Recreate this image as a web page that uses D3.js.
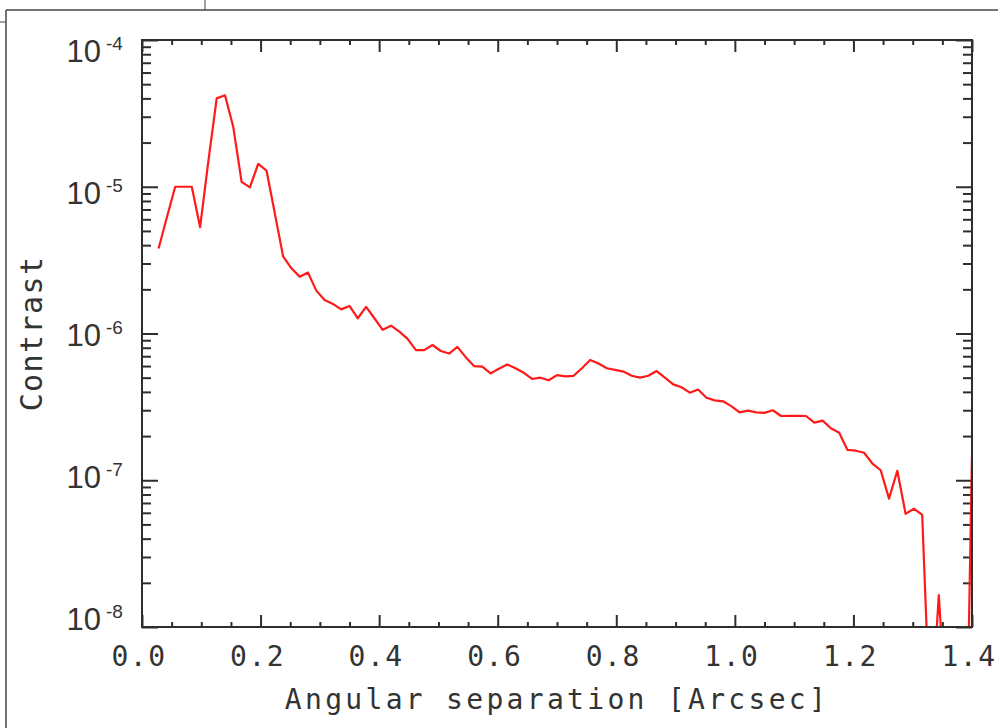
<!DOCTYPE html>
<html>
<head>
<meta charset="utf-8">
<script src="https://cdn.jsdelivr.net/npm/d3@7/dist/d3.min.js"></script>
<style>
  body { margin: 0; background: #fff; }
  svg { display: block; }
</style>
</head>
<body>
<div class="canvas"></div>
<script>
// angular separation [arcsec]
const separation = [
  0.028, 0.042, 0.056, 0.070, 0.084, 0.098, 0.112, 0.126, 0.140, 0.154,
  0.168, 0.182, 0.196, 0.210, 0.224, 0.238, 0.252, 0.266, 0.280, 0.294,
  0.308, 0.322, 0.336, 0.350, 0.364, 0.378, 0.392, 0.406, 0.420, 0.434,
  0.448, 0.462, 0.476, 0.490, 0.504, 0.518, 0.532, 0.546, 0.560, 0.574,
  0.588, 0.602, 0.616, 0.630, 0.644, 0.658, 0.672, 0.686, 0.700, 0.714,
  0.728, 0.742, 0.756, 0.770, 0.784, 0.798, 0.812, 0.826, 0.840, 0.854,
  0.868, 0.882, 0.896, 0.910, 0.924, 0.938, 0.952, 0.966, 0.980, 0.994,
  1.008, 1.022, 1.036, 1.050, 1.064, 1.078, 1.092, 1.106, 1.120, 1.134,
  1.148, 1.162, 1.176, 1.190, 1.204, 1.218, 1.232, 1.246, 1.260, 1.274,
  1.288, 1.302, 1.316, 1.330, 1.344, 1.358, 1.372, 1.386, 1.400
];

// contrast
const contrast = [
  3.8e-6, 6.2e-6, 1.0e-5, 1.0e-5, 1.0e-5, 5.3e-6, 1.5e-5, 4.0e-5, 4.2e-5, 2.55e-5,
  1.08e-5, 9.9e-6, 1.43e-5, 1.29e-5, 6.6e-6, 3.35e-6, 2.78e-6, 2.44e-6, 2.6e-6, 1.96e-6,
  1.69e-6, 1.59e-6, 1.46e-6, 1.54e-6, 1.27e-6, 1.52e-6, 1.27e-6, 1.06e-6, 1.13e-6, 1.03e-6,
  9.2e-7, 7.7e-7, 7.7e-7, 8.35e-7, 7.6e-7, 7.3e-7, 8.1e-7, 6.9e-7, 6.0e-7, 5.95e-7,
  5.35e-7, 5.75e-7, 6.15e-7, 5.8e-7, 5.4e-7, 4.9e-7, 5.0e-7, 4.8e-7, 5.2e-7, 5.1e-7,
  5.15e-7, 5.8e-7, 6.6e-7, 6.25e-7, 5.8e-7, 5.65e-7, 5.5e-7, 5.15e-7, 5.0e-7, 5.15e-7,
  5.55e-7, 5.0e-7, 4.5e-7, 4.3e-7, 3.95e-7, 4.15e-7, 3.65e-7, 3.5e-7, 3.45e-7, 3.2e-7,
  2.9e-7, 2.98e-7, 2.9e-7, 2.88e-7, 3.0e-7, 2.74e-7, 2.75e-7, 2.75e-7, 2.74e-7, 2.47e-7,
  2.55e-7, 2.26e-7, 2.11e-7, 1.61e-7, 1.59e-7, 1.54e-7, 1.3e-7, 1.17e-7, 7.5e-8, 1.16e-7,
  5.9e-8, 6.4e-8, 5.8e-8, 2e-9, 1.65e-8, 2e-9, 1e-10, 1e-10, 1.5e-7
];

// tick labels
const xTicks = [0, 0.2, 0.4, 0.6, 0.8, 1.0, 1.2, 1.4];
const xTickLabels = ["0.0", "0.2", "0.4", "0.6", "0.8", "1.0", "1.2", "1.4"];
const yTicks = [1e-4, 1e-5, 1e-6, 1e-7, 1e-8];
const yExponents = ["-4", "-5", "-6", "-7", "-8"];

const W = 998, H = 728;
const svg = d3.select(".canvas")
  .append('svg')
  .attr('width', W)
  .attr('height', H)
  .style('background', '#fff');

// page frame bits around the figure
const frame = svg.append('g').attr('stroke', '#444').attr('fill', 'none');
frame.append('line').attr('x1', 6).attr('y1', 10).attr('x2', W).attr('y2', 10).attr('stroke-width', 1.5);
frame.append('line').attr('x1', 6).attr('y1', 10).attr('x2', 6).attr('y2', H).attr('stroke-width', 1.5);
frame.append('line').attr('x1', 205).attr('y1', 0).attr('x2', 205).attr('y2', 10).attr('stroke-width', 1);
frame.append('line').attr('x1', 0).attr('y1', 22).attr('x2', 6).attr('y2', 22).attr('stroke-width', 1);

const margins = {top: 40, left: 142, bottom: 101, right: 26};
const graphWidth = W - margins.left - margins.right;
const graphHeight = H - margins.top - margins.bottom;

const graph = svg.append('g')
  .attr('transform', 'translate(' + margins.left + ',' + margins.top + ')');

const x = d3.scaleLinear().domain([0, 1.4]).range([0, graphWidth]);
const y = d3.scaleLog().domain([1e-8, 1e-4]).range([graphHeight, 0]);

// minor tick positions
const xMinor = d3.range(0, 1.4001, 0.05).filter(v => Math.abs(v / 0.2 - Math.round(v / 0.2)) > 1e-6);
const yMinor = [];
yTicks.slice(0, -1).forEach(d => { for (let k = 2; k <= 9; k++) yMinor.push(d / 10 * k); });

const axisColor = '#2e2e2e';
const textColor = '#333';

function tickAxis(axis, transform) {
  const g = graph.append('g').attr('transform', transform).call(axis);
  g.select('.domain').remove();
  g.selectAll('line').attr('stroke', axisColor).attr('stroke-width', 2);
  g.selectAll('text').remove();
  return g;
}

// x ticks, bottom & top (inward)
tickAxis(d3.axisBottom(x).tickValues(xTicks).tickSize(-12).tickSizeOuter(0), 'translate(0,' + graphHeight + ')');
tickAxis(d3.axisBottom(x).tickValues(xMinor).tickSize(-5).tickSizeOuter(0), 'translate(0,' + graphHeight + ')');
tickAxis(d3.axisTop(x).tickValues(xTicks).tickSize(-12).tickSizeOuter(0), 'translate(0,0)');
tickAxis(d3.axisTop(x).tickValues(xMinor).tickSize(-5).tickSizeOuter(0), 'translate(0,0)');

// y ticks, left & right (inward)
tickAxis(d3.axisLeft(y).tickValues(yTicks).tickSize(-16).tickSizeOuter(0), 'translate(0,0)');
tickAxis(d3.axisLeft(y).tickValues(yMinor).tickSize(-9).tickSizeOuter(0), 'translate(0,0)');
tickAxis(d3.axisRight(y).tickValues(yTicks).tickSize(-16).tickSizeOuter(0), 'translate(' + graphWidth + ',0)');
tickAxis(d3.axisRight(y).tickValues(yMinor).tickSize(-9).tickSizeOuter(0), 'translate(' + graphWidth + ',0)');

// data line, clipped to the plot box
graph.append('clipPath').attr('id', 'plotclip')
  .append('rect').attr('width', graphWidth).attr('height', graphHeight);

const line = d3.line()
  .x((d, i) => x(separation[i]))
  .y(d => y(d));

graph.append('path')
  .datum(contrast)
  .attr('clip-path', 'url(#plotclip)')
  .attr('fill', 'none')
  .attr('stroke', '#ff1a1a')
  .attr('stroke-width', 2.2)
  .attr('stroke-linejoin', 'round')
  .attr('d', line);

// plot box
graph.append('rect')
  .attr('width', graphWidth)
  .attr('height', graphHeight)
  .attr('fill', 'none')
  .attr('stroke', axisColor)
  .attr('stroke-width', 2);

// x tick labels
graph.selectAll('.xlab')
  .data(xTicks)
  .enter().append('text')
  .attr('class', 'xlab')
  .attr('x', d => x(d) - 3)
  .attr('y', graphHeight + 39)
  .attr('text-anchor', 'middle')
  .attr('font-family', '"DejaVu Sans Mono", monospace')
  .attr('font-size', 28)
  .attr('letter-spacing', 1.5)
  .attr('fill', textColor)
  .text((d, i) => xTickLabels[i]);

// y tick labels: 10 with exponent
const labY = d => y(d) + 22 - 19 * y(d) / graphHeight;
graph.selectAll('.ylab')
  .data(yTicks)
  .enter().append('text')
  .attr('class', 'ylab')
  .attr('x', -41)
  .attr('y', labY)
  .attr('text-anchor', 'end')
  .attr('font-family', '"Liberation Sans", Arial, sans-serif')
  .attr('font-size', 31)
  .attr('fill', textColor)
  .text('10');

graph.selectAll('.yexp')
  .data(yTicks)
  .enter().append('text')
  .attr('class', 'yexp')
  .attr('x', -36)
  .attr('y', d => labY(d) - 12)
  .attr('text-anchor', 'start')
  .attr('font-family', '"Liberation Sans", Arial, sans-serif')
  .attr('font-size', 19)
  .attr('fill', textColor)
  .text((d, i) => yExponents[i]);

// axis titles
graph.append('text')
  .attr('x', graphWidth / 2)
  .attr('y', graphHeight + 82)
  .attr('text-anchor', 'middle')
  .attr('font-family', '"DejaVu Sans Mono", monospace')
  .attr('font-size', 28)
  .attr('letter-spacing', 3.3)
  .attr('fill', textColor)
  .text('Angular separation [Arcsec]');

graph.append('text')
  .attr('transform', 'translate(' + (42 - margins.left) + ',' + (graphHeight / 2) + ') rotate(-90)')
  .attr('text-anchor', 'middle')
  .attr('font-family', '"DejaVu Sans Mono", monospace')
  .attr('font-size', 30)
  .attr('letter-spacing', 1.4)
  .attr('fill', textColor)
  .text('Contrast');
</script>
</body>
</html>
